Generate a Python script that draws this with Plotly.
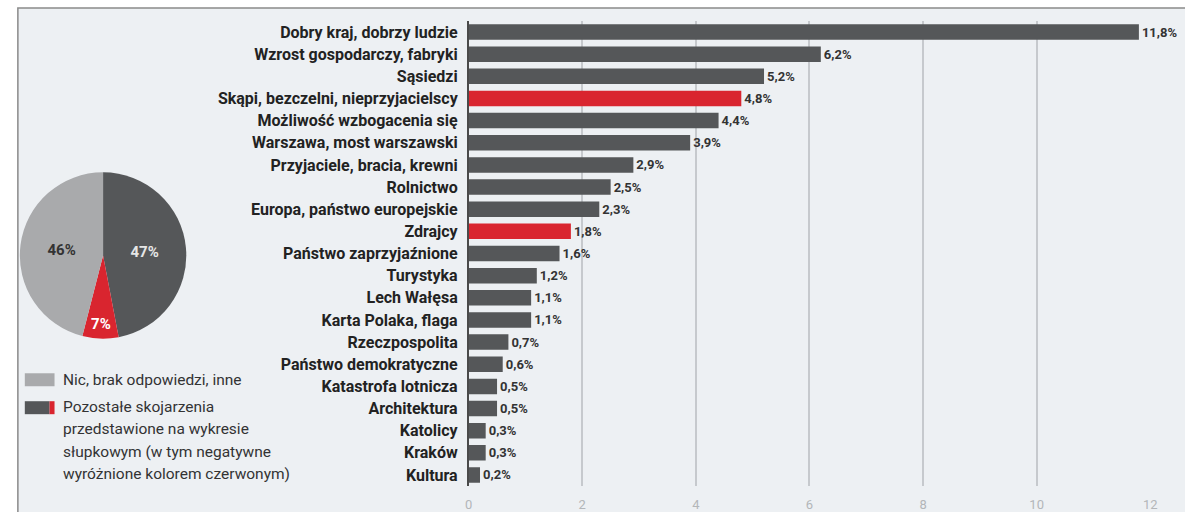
import plotly.graph_objects as go

categories = [
    "Dobry kraj, dobrzy ludzie", "Wzrost gospodarczy, fabryki", "Sąsiedzi",
    "Skąpi, bezczelni, nieprzyjacielscy", "Możliwość wzbogacenia się",
    "Warszawa, most warszawski", "Przyjaciele, bracia, krewni", "Rolnictwo",
    "Europa, państwo europejskie", "Zdrajcy", "Państwo zaprzyjaźnione",
    "Turystyka", "Lech Wałęsa", "Karta Polaka, flaga", "Rzeczpospolita",
    "Państwo demokratyczne", "Katastrofa lotnicza", "Architektura",
    "Katolicy", "Kraków", "Kultura",
]
values = [11.8, 6.2, 5.2, 4.8, 4.4, 3.9, 2.9, 2.5, 2.3, 1.8, 1.6,
          1.2, 1.1, 1.1, 0.7, 0.6, 0.5, 0.5, 0.3, 0.3, 0.2]
negative = [False, False, False, True, False, False, False, False, False, True, False,
            False, False, False, False, False, False, False, False, False, False]
x_ticks = [0, 2, 4, 6, 8, 10, 12]

pie_labels = ["Pozostałe skojarzenia (pozytywne/neutralne)", "Negatywne", "Nic, brak odpowiedzi, inne"]
pie_values = [47, 7, 46]
pie_text = ["47%", "7%", "46%"]

legend_line1 = ["Nic, brak odpowiedzi, inne"]
legend_line2 = [
    "Pozostałe skojarzenia",
    "przedstawione na wykresie",
    "słupkowym (w tym negatywne",
    "wyróżnione kolorem czerwonym)",
]

DARK = "#555759"
RED = "#d9252f"
LIGHT = "#a9aaac"
BG = "#edf0f3"
W, H = 1185, 512

bar_colors = [RED if n else DARK for n in negative]
labels_txt = [f"{v:.1f}%".replace(".", ",") for v in values]

fig = go.Figure()

fig.add_trace(go.Bar(
    x=values, y=categories, orientation="h",
    marker=dict(color=bar_colors, line=dict(width=0)),
    width=0.7,
    text=labels_txt, textposition="outside", cliponaxis=False,
    textfont=dict(family="Roboto", size=13, color="#333333", weight="bold"),
    showlegend=False, hoverinfo="skip",
))

fig.add_trace(go.Pie(
    values=pie_values, labels=pie_labels, text=pie_text, textinfo="text",
    sort=False, direction="clockwise", rotation=0,
    marker=dict(colors=[DARK, RED, LIGHT], line=dict(width=0)),
    textfont=dict(family="Roboto", size=15, weight="bold", color=["#e6e6e6", "#ffffff", "#333333"]),
    insidetextorientation="horizontal",
    textposition="inside",
    domain=dict(x=[16 / W, 184 / W], y=[1 - 340 / H, 1 - 172 / H]),
    showlegend=False, hoverinfo="skip",
))

shapes = [
    dict(type="rect", xref="paper", yref="paper", x0=14 / W, x1=1.02, y0=-0.02, y1=1 - 8 / H,
         fillcolor=BG, line=dict(color="#8a8a8a", width=1.5), layer="below"),
    dict(type="rect", xref="paper", yref="paper", x0=21 / W, x1=51 / W, y0=1 - 387 / H, y1=1 - 374 / H,
         fillcolor=LIGHT, line=dict(width=0)),
    dict(type="rect", xref="paper", yref="paper", x0=21 / W, x1=46 / W, y0=1 - 415 / H, y1=1 - 402 / H,
         fillcolor=DARK, line=dict(width=0)),
    dict(type="rect", xref="paper", yref="paper", x0=46 / W, x1=51 / W, y0=1 - 415 / H, y1=1 - 402 / H,
         fillcolor=RED, line=dict(width=0)),
]

annotations = []
legend_font = dict(family="Roboto", size=15.5, color="#333333")
annotations.append(dict(text=legend_line1[0], xref="paper", yref="paper", x=58 / W, y=1 - 381 / H,
                        xanchor="left", yanchor="middle", showarrow=False, font=legend_font))
for i, line in enumerate(legend_line2):
    annotations.append(dict(text=line, xref="paper", yref="paper", x=58 / W, y=1 - (408 + 22.3 * i) / H,
                            xanchor="left", yanchor="middle", showarrow=False, font=legend_font))

fig.update_layout(
    width=W, height=H,
    margin=dict(l=0, r=0, t=0, b=0),
    paper_bgcolor="white", plot_bgcolor="rgba(0,0,0,0)",
    shapes=shapes, annotations=annotations,
    xaxis=dict(
        domain=[469 / W, 1157 / W], range=[0, 12], tickvals=x_ticks,
        showgrid=True, gridcolor="#c6c9cd", gridwidth=1.5, zeroline=False,
        showline=False, ticks="", ticklabelstandoff=9,
        tickfont=dict(family="Roboto", size=13, color="#b3b6b9"),
        fixedrange=True,
    ),
    yaxis=dict(
        domain=[1 - 487 / H, 1 - 21 / H], autorange="reversed",
        showgrid=False, showline=True, linecolor="#4a4a4a", linewidth=1.5,
        ticks="", ticklabelstandoff=6,
        tickfont=dict(family="Roboto", size=16, color="#222222", weight="bold"),
        fixedrange=True,
    ),
    font=dict(family="Roboto"),
)

fig.write_html("out.html")
